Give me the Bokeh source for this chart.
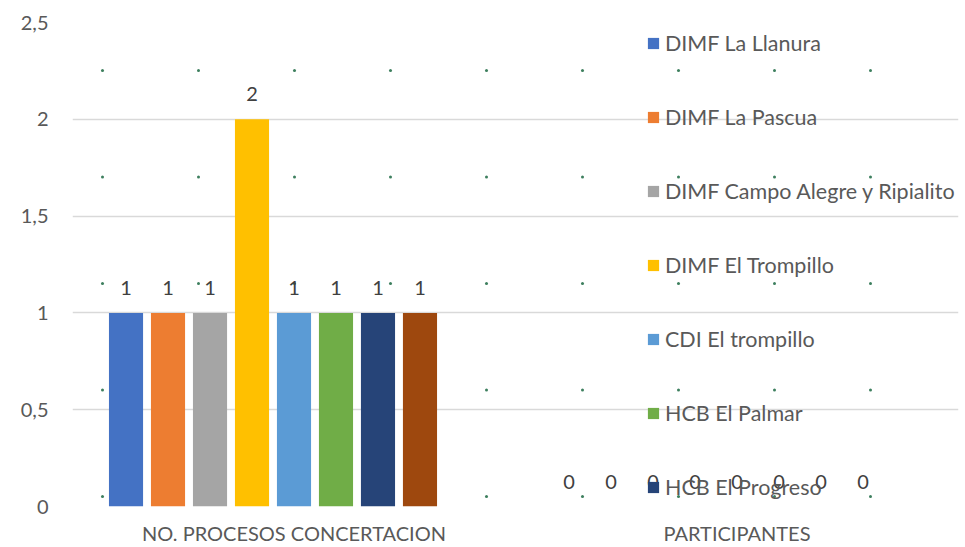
from bokeh.plotting import figure
from bokeh.models import FactorRange, Range1d, Legend, LegendItem, ColumnDataSource, FixedTicker
from bokeh.transform import dodge
from bokeh.core.properties import value
from bokeh.embed import file_html
from bokeh.resources import INLINE
import numpy as np

categories = ["NO. PROCESOS CONCERTACION", "PARTICIPANTES"]
legend_names = ["DIMF La Llanura", "DIMF La Pascua", "DIMF Campo Alegre y Ripialito",
                "DIMF El Trompillo", "CDI El trompillo", "HCB El Palmar", "HCB El Progreso"]
s1 = [1, 0]
s2 = [1, 0]
s3 = [1, 0]
s4 = [2, 0]
s5 = [1, 0]
s6 = [1, 0]
s7 = [1, 0]
s8 = [1, 0]
series_values = [s1, s2, s3, s4, s5, s6, s7, s8]
colors = ["#4472C4", "#ED7D31", "#A5A5A5", "#FFC000", "#5B9BD5", "#70AD47", "#264478", "#9E480E"]
n_slots = 9  # one more series exists, without values
y_ticks = [0, 0.5, 1, 1.5, 2, 2.5]
y_tick_labels = ["0", "0,5", "1", "1,5", "2", "2,5"]

FONT = "Lato"
TXT = "#595959"

W, H = 965, 547
ML, MR, MT, MB = 72, 7, 22, 41

p = figure(width=W, height=H, x_range=FactorRange(*categories, range_padding=0, factor_padding=0),
           y_range=Range1d(0, 2.5), output_backend="svg", toolbar_location=None,
           min_border_left=ML, min_border_right=MR, min_border_top=MT, min_border_bottom=MB)
p.outline_line_color = None
p.background_fill_color = "white"
p.border_fill_color = "white"

# decorative dot pattern of the background
frame_w = W - ML - MR
frame_h = H - MT - MB
dot_px_x = 102 + 96 * np.arange(9)
dot_px_y = 70 + 106.5 * np.arange(5)
gx, gy = np.meshgrid((dot_px_x - ML) / frame_w * 2, (H - MB - dot_px_y) / frame_h * 2.5)
p.scatter(gx.ravel(), gy.ravel(), size=3, color="#3d7f5e", line_color=None)

p.xgrid.grid_line_color = None
p.ygrid.grid_line_color = "#d9d9d9"
p.ygrid.grid_line_width = 1.5

pitch = 0.0948
bar_w = 0.077
renderers = []
for i, vals in enumerate(series_values):
    off = (i - (n_slots - 1) / 2) * pitch
    src = ColumnDataSource(dict(cat=categories, val=vals, lbl=[str(v) for v in vals]))
    r = p.vbar(x=dodge("cat", off, range=p.x_range), top="val", width=bar_w, source=src,
               fill_color=colors[i], line_color=None)
    renderers.append(r)
    p.text(x=dodge("cat", off, range=p.x_range), y="val", text="lbl", source=src,
           text_align="center", text_baseline="middle", y_offset=-25,
           text_font=value(FONT), text_font_size="20px", text_color="#404040")

items = [LegendItem(label=legend_names[i], renderers=[renderers[i]]) for i in range(len(legend_names))]
legend = Legend(items=items, location=(574, 5), orientation="vertical",
                glyph_width=14, glyph_height=14, label_height=28, spacing=46,
                padding=0, margin=0, label_standoff=5,
                label_text_font=FONT, label_text_font_size="21.5px", label_text_color=TXT,
                background_fill_alpha=0, border_line_color=None)
p.add_layout(legend, "center")

p.yaxis.ticker = FixedTicker(ticks=y_ticks)
p.yaxis.major_label_overrides = {t: l for t, l in zip(y_ticks, y_tick_labels)}
for ax in (p.xaxis, p.yaxis):
    ax.axis_line_color = None
    ax.major_tick_line_color = None
    ax.minor_tick_line_color = None
    ax.major_tick_out = 0
    ax.major_tick_in = 0
    ax.minor_tick_out = 0
    ax.minor_tick_in = 0
    ax.major_label_text_font = FONT
    ax.major_label_text_color = TXT
p.yaxis.major_label_text_font_size = "20px"
p.yaxis.major_label_standoff = 24
p.xaxis.major_label_text_font_size = "20px"
p.xaxis.major_label_standoff = 14

open("out.html", "w").write(file_html(p, INLINE))
